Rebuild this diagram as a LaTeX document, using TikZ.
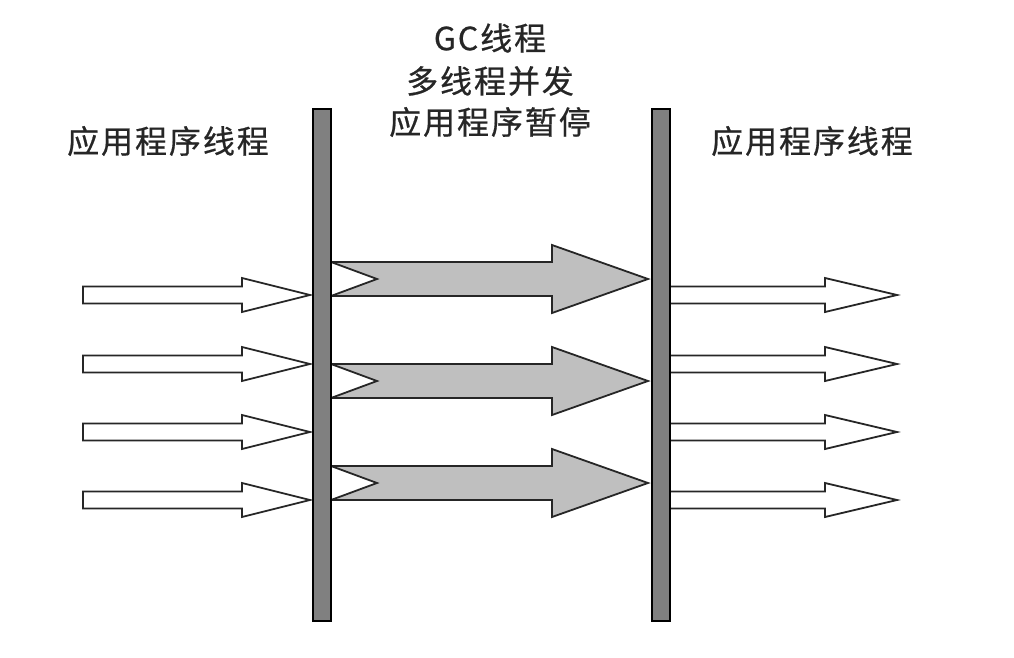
\documentclass[tikz,border=0pt]{standalone}
\usepackage{fontspec}
\newfontfamily\cjk[LetterSpace=6,FakeBold=0.6]{Noto Sans CJK SC}
\begin{document}
\begin{tikzpicture}[x=1pt,y=-1pt,
  barbox/.style={draw=black,line width=1.6pt,fill=black!50},
  whitearr/.style={draw=black!85,line width=1.8pt,fill=white,line join=miter},
  grayarr/.style={draw=black!85,line width=1.8pt,fill=black!25,line join=miter},
  lbl/.style={font=\cjk\fontsize{32}{42}\selectfont,text=black!85,inner sep=0pt,align=center}]
\useasboundingbox (0,0) rectangle (1014,658);
\fill[white] (0,0) rectangle (1014,658);
% left white arrows
\foreach \yc in {295,364,432,500}{
  \draw[whitearr] (83,\yc-8.5) -- (242,\yc-8.5) -- (242,\yc-17) -- (310,\yc) -- (242,\yc+17) -- (242,\yc+8.5) -- (83,\yc+8.5) -- cycle;
}
% right white arrows
\foreach \yc in {295,364,432,500}{
  \draw[whitearr] (660,\yc-8.5) -- (825,\yc-8.5) -- (825,\yc-17) -- (897,\yc) -- (825,\yc+17) -- (825,\yc+8.5) -- (660,\yc+8.5) -- cycle;
}
% gray notched arrows
\foreach \yc in {279,381,483}{
  \draw[grayarr] (331,\yc-17) -- (552,\yc-17) -- (552,\yc-34) -- (648,\yc) -- (552,\yc+34) -- (552,\yc+17) -- (331,\yc+17) -- (377,\yc) -- cycle;
}
% bars
\node[barbox,minimum width=18pt,minimum height=512pt,inner sep=0pt] (lbar) at (322,365) {};
\node[barbox,minimum width=18pt,minimum height=512pt,inner sep=0pt] (rbar) at (661,365) {};
% labels
\node[lbl] (lt) at (168,141) {应用程序线程};
\node[lbl] (rt) at (812,141) {应用程序线程};
\node[lbl] (t1) at (490,38) {GC线程};
\node[lbl] (t2) at (490,81) {多线程并发};
\node[lbl] (t3) at (490,122) {应用程序暂停};
\end{tikzpicture}
\end{document}
